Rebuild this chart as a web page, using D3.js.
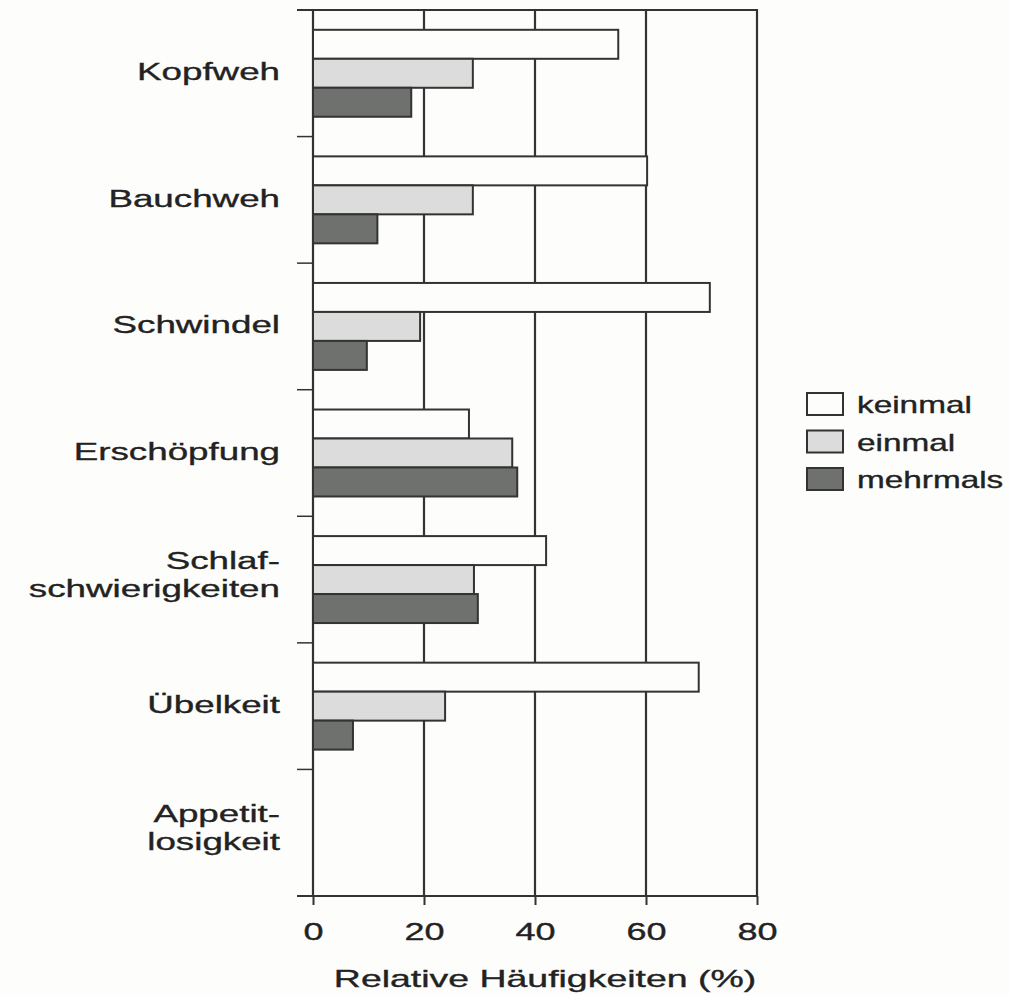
<!DOCTYPE html>
<meta charset="utf-8">
<script src="https://d3js.org/d3.v7.min.js"></script>
<style>
  body { margin: 0; background: #fdfdfb; }
  text { font-family: "Liberation Sans", Arial, sans-serif; fill: #222; stroke: #222; stroke-width: 0.35px; }
</style>
<div id="chart"></div>
<script>
// Daten (Prozent)
const categories = ["Kopfweh", "Bauchweh", "Schwindel", "Erschöpfung", "Schlaf-schwierigkeiten", "Übelkeit", "Appetit-losigkeit"];
const labelLines = [["Kopfweh"], ["Bauchweh"], ["Schwindel"], ["Erschöpfung"], ["Schlaf-", "schwierigkeiten"], ["Übelkeit"], ["Appetit-", "losigkeit"]];
const series = ["keinmal", "einmal", "mehrmals"];
const keinmal  = [55, 60.2, 71.5, 28.1, 42, 69.5, null];
const einmal   = [28.8, 28.8, 19.3, 35.9, 29, 23.8, null];
const mehrmals = [17.7, 11.6, 9.7, 36.8, 29.7, 7.2, null];
const xTicks = [0, 20, 40, 60, 80];
const axisTitle = "Relative Häufigkeiten (%)";

const W = 1010, H = 995;
const plot = {left: 313, right: 757, top: 10, bottom: 896};
const colors = {keinmal: "#fdfdfb", einmal: "#dcdcdc", mehrmals: "#6f716f"};
const stroke = "#333";
const sx = 1.5; // Schrift ist in der Vorlage horizontal gestreckt

const svg = d3.select("#chart").append("svg")
  .attr("width", W).attr("height", H);

const x = d3.scaleLinear().domain([0, 80]).range([plot.left, plot.right]);
const y = d3.scaleBand().domain(categories)
  .range([plot.top, plot.bottom])
  .paddingInner(0.313).paddingOuter(0.1565);
const ySub = d3.scaleBand().domain(series).range([0, y.bandwidth()]);

const values = {keinmal, einmal, mehrmals};
const rows = [];
categories.forEach((c, i) => series.forEach(s => {
  if (values[s][i] != null) rows.push({cat: c, s, v: values[s][i]});
}));

// Gitterlinien (inkl. linker und rechter Rahmen)
svg.append("g").selectAll("line").data(xTicks).join("line")
  .attr("x1", d => x(d)).attr("x2", d => x(d))
  .attr("y1", plot.top).attr("y2", plot.bottom)
  .attr("stroke", stroke).attr("stroke-width", 2.2);

// Oben und unten durchgehende Linien
svg.append("g").selectAll("line").data([plot.top, plot.bottom]).join("line")
  .attr("x1", plot.left - 16).attr("x2", plot.right + 1)
  .attr("y1", d => d).attr("y2", d => d)
  .attr("stroke", stroke).attr("stroke-width", 2);

// Teilstriche links an den Kategoriegrenzen
const bounds = categories.map(c => y(c) - y.step() * y.paddingInner() / 2).slice(1);
svg.append("g").selectAll("line").data(bounds).join("line")
  .attr("x1", plot.left - 16).attr("x2", plot.left)
  .attr("y1", d => d).attr("y2", d => d)
  .attr("stroke", stroke).attr("stroke-width", 1.5);

// Balken
svg.append("g").selectAll("rect").data(rows).join("rect")
  .attr("x", x(0))
  .attr("y", d => y(d.cat) + ySub(d.s))
  .attr("width", d => x(d.v) - x(0))
  .attr("height", ySub.bandwidth())
  .attr("fill", d => colors[d.s])
  .attr("stroke", stroke).attr("stroke-width", 2);

// x-Achse
const xAxis = svg.append("g")
  .attr("transform", `translate(0,${plot.bottom})`)
  .call(d3.axisBottom(x).tickValues(xTicks).tickSize(9));
xAxis.select(".domain").remove();
xAxis.selectAll(".tick line").attr("stroke", stroke).attr("stroke-width", 2);
xAxis.selectAll(".tick text")
  .attr("y", 27)
  .attr("transform", `scale(${sx},1)`)
  .style("font-size", "24px")
  .attr("fill", "#222");

// Achsentitel
svg.append("text")
  .attr("transform", `translate(545,987) scale(1.56,1)`)
  .attr("text-anchor", "middle")
  .style("font-size", "24px")
  .text(axisTitle);

// Kategoriebeschriftungen
const lab = svg.append("g").selectAll("text").data(categories).join("text")
  .attr("text-anchor", "end")
  .style("font-size", "24.5px")
  .attr("transform", (d, i) => {
    const n = labelLines[i].length;
    const cy = y(d) + y.bandwidth() / 2 + (n > 1 ? -11 : 7);
    return `translate(280,${cy}) scale(${sx},1)`;
  });
lab.selectAll("tspan").data((d, i) => labelLines[i]).join("tspan")
  .attr("x", 0)
  .attr("dy", (d, j) => j === 0 ? 0 : 28.5)
  .text(d => d);

// Legende
const legend = svg.append("g").attr("transform", "translate(807,393)");
const li = legend.selectAll("g").data(series).join("g")
  .attr("transform", (d, i) => `translate(0,${i * 37.5})`);
li.append("rect")
  .attr("width", 36).attr("height", 22)
  .attr("fill", d => colors[d])
  .attr("stroke", stroke).attr("stroke-width", 2);
li.append("text")
  .attr("transform", `translate(50,20) scale(1.45,1)`)
  .style("font-size", "23px")
  .text(d => d);
</script>
